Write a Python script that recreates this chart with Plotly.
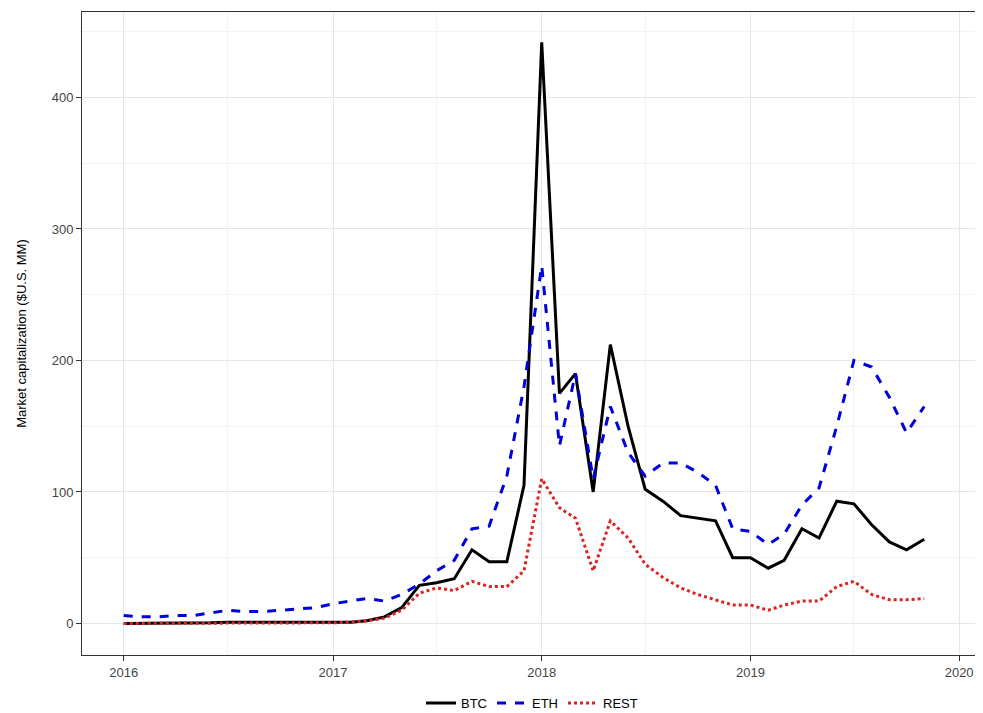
import pandas as pd
import plotly.graph_objects as go

dates = pd.date_range("2016-01-01", "2019-11-01", freq="MS")

btc = [0, 0, 0, 0, 0.5, 0.5, 1, 1, 1, 1, 1, 1,
       1, 1, 2, 5, 12, 29, 31, 34, 56, 47, 47, 105,
       442, 175, 190, 100, 212, 150, 102, 93, 82, 80, 78, 50,
       50, 42, 48, 72, 65, 93, 91, 75, 62, 56, 64]
eth = [6, 5, 5, 6, 6, 8, 10, 9, 9, 10, 11, 12,
       15, 17, 19, 17, 22, 30, 40, 48, 72, 74, 112, 180,
       272, 135, 190, 110, 165, 130, 112, 122, 122, 115, 105, 72,
       70, 60, 68, 90, 103, 150, 200, 195, 172, 145, 165]
rest = [0, 0, 0, 0, 0, 0, 0.5, 0.5, 0.5, 0.5, 0.5, 0.5,
        0.5, 1, 2, 4, 10, 23, 27, 25, 32, 28, 28, 40,
        110, 88, 80, 40, 78, 65, 45, 35, 27, 22, 18, 14,
        14, 10, 14, 17, 17, 28, 32, 22, 18, 18, 19]

fig = go.Figure()
fig.add_trace(go.Scatter(x=dates, y=btc, mode="lines", name="BTC",
                         line=dict(color="black", width=3)))
fig.add_trace(go.Scatter(x=dates, y=eth, mode="lines", name="ETH",
                         line=dict(color="#0000dd", width=3, dash="dash")))
fig.add_trace(go.Scatter(x=dates, y=rest, mode="lines", name="REST",
                         line=dict(color="#dd2222", width=3, dash="dot")))

fig.update_layout(
    width=975, height=705,
    margin=dict(l=74, r=1, t=4, b=58),
    plot_bgcolor="white", paper_bgcolor="white",
    font=dict(family="Liberation Sans, Arial", size=13, color="#444"),
    legend=dict(orientation="h", x=0.5, xanchor="center", yref="container",
                y=0.014, yanchor="middle", font=dict(size=13, color="black")),
)
fig.update_xaxes(range=["2015-10-20", "2020-02-10"], automargin=False,
                 tickvals=["2016-01-01", "2017-01-01", "2018-01-01", "2019-01-01", "2020-01-01"],
                 ticktext=["2016", "2017", "2018", "2019", "2020"],
                 minor=dict(tickvals=["2016-07-01", "2017-07-01", "2018-07-01", "2019-07-01"],
                            showgrid=True, gridcolor="#f3f3f3"),
                 showgrid=True, gridcolor="#e6e6e6", showline=True, linecolor="#333",
                 mirror=True, ticks="outside", tickcolor="#333", zeroline=False)
fig.update_yaxes(range=[-24, 465], tickvals=[0, 100, 200, 300, 400], automargin=False,
                 minor=dict(tickvals=[50, 150, 250, 350, 450], showgrid=True, gridcolor="#f3f3f3"),
                 title=dict(text="Market capitalization ($U.S. MM)",
                            font=dict(color="black", size=13), standoff=22),
                 showgrid=True, gridcolor="#e6e6e6", showline=True, linecolor="#333",
                 mirror=True, ticks="outside", tickcolor="#333", zeroline=False)

fig.write_html("out.html")
